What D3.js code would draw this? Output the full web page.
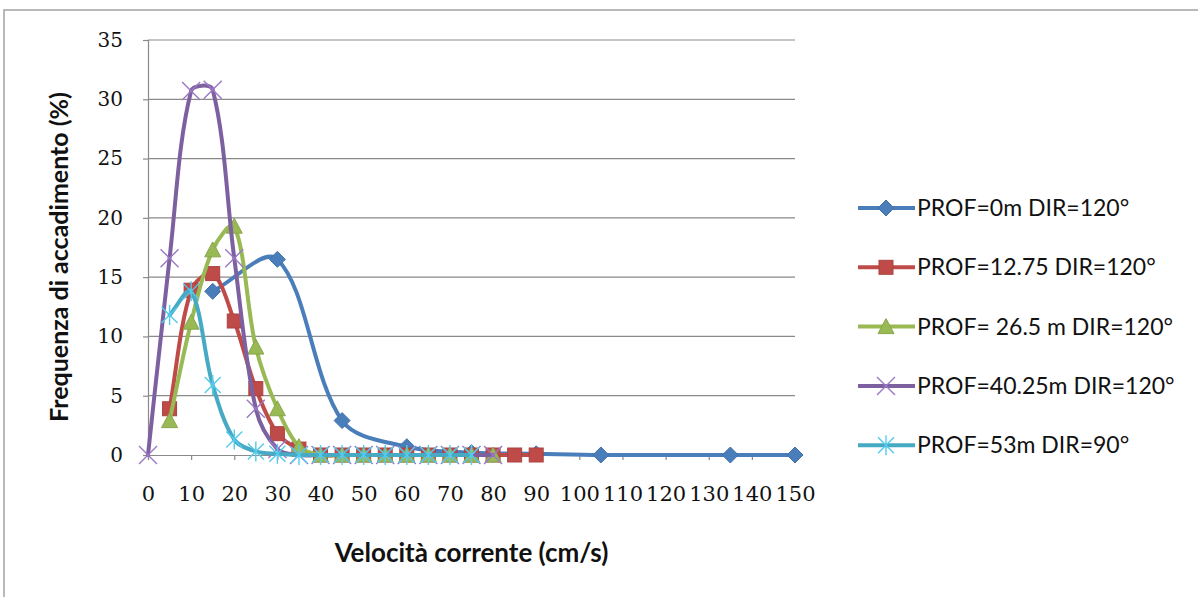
<!DOCTYPE html>
<html><head><meta charset="utf-8">
<script src="https://cdn.jsdelivr.net/npm/d3@7"></script>
<style>
body{margin:0;background:#fff}
</style>
</head><body>
<svg id="chart" width="1198" height="597"></svg>
<script>
// Velocity classes (cm/s) and frequency of occurrence (%) per depth
const seriesNames = ["PROF=0m DIR=120°", "PROF=12.75 DIR=120°", "PROF= 26.5 m DIR=120°", "PROF=40.25m DIR=120°", "PROF=53m DIR=90°"];
const seriesColors = ["#4a7ebb", "#be4b48", "#98b954", "#7d60a0", "#46aac5"];
const seriesMarkers = ["diamond", "square", "triangle", "cross", "star"];

const speed0 = [15, 30, 45, 60, 75, 90, 105, 135, 150];
const freq0  = [13.8, 16.5, 2.9, 0.7, 0.2, 0.1, 0, 0, 0];

const speed1 = [5, 10, 15, 20, 25, 30, 35, 40, 45, 50, 55, 60, 65, 70, 75, 80, 85, 90];
const freq1  = [3.9, 13.9, 15.3, 11.3, 5.6, 1.8, 0.5, 0, 0, 0, 0, 0, 0, 0, 0, 0, 0, 0];

const speed2 = [5, 10, 15, 20, 25, 30, 35, 40, 45, 50, 55, 60, 65, 70, 75, 80];
const freq2  = [2.9, 11.2, 17.3, 19.3, 9.1, 3.9, 0.7, 0, 0, 0, 0, 0, 0, 0, 0, 0];

const speed3 = [0, 5, 10, 15, 20, 25, 30, 35, 40, 45, 50, 55, 60, 65, 70, 75, 80];
const freq3  = [0, 16.6, 30.7, 30.8, 16.6, 3.9, 0.5, 0, 0, 0, 0, 0, 0, 0, 0, 0, 0];

const speed4 = [5, 10, 15, 20, 25, 30, 35, 40, 45, 50, 55, 60, 65, 70, 75];
const freq4  = [11.8, 13.8, 5.9, 1.3, 0.3, 0.1, 0, 0, 0, 0, 0, 0, 0, 0, 0];

const xTicks = [0, 10, 20, 30, 40, 50, 60, 70, 80, 90, 100, 110, 120, 130, 140, 150];
const yTicks = [0, 5, 10, 15, 20, 25, 30, 35];

const xTitle = "Velocità corrente (cm/s)";
const yTitle = "Frequenza di accadimento (%)";

const speeds = [speed0, speed1, speed2, speed3, speed4];
const freqs = [freq0, freq1, freq2, freq3, freq4];

const svg = d3.select("#chart");
const plot = {left: 148, top: 40, right: 795, bottom: 455};

const x = d3.scaleLinear().domain([0, 150]).range([plot.left, plot.right]);
const y = d3.scaleLinear().domain([0, 35]).range([plot.bottom, plot.top]);

const SANS = "Lato, 'Open Sans', sans-serif";
const SERIF = "'DejaVu Serif', serif";

// Smoothed line: cubic Bezier segments whose tangents are weighted by the
// neighbouring chord lengths, so short segments next to long ones stay tight.
function SmoothChord(context) { this._context = context; }
SmoothChord.prototype = {
  areaStart() { this._line = 0; },
  areaEnd() { this._line = NaN; },
  lineStart() { this._pts = []; },
  point(px, py) { this._pts.push([+px, +py]); },
  lineEnd() {
    const p = this._pts, n = p.length, c = this._context;
    if (!n) return;
    c.moveTo(p[0][0], p[0][1]);
    const dist = (a, b) => Math.hypot(b[0] - a[0], b[1] - a[1]);
    for (let i = 0; i < n - 1; i++) {
      const p0 = p[i - 1] || p[i], p1 = p[i], p2 = p[i + 1], p3 = p[i + 2] || p[i + 1];
      const d01 = dist(p0, p1), d12 = dist(p1, p2), d23 = dist(p2, p3);
      const f1 = (d01 + d12) > 0 ? d12 / (3 * (d01 + d12)) : 0;
      const f2 = (d12 + d23) > 0 ? d12 / (3 * (d12 + d23)) : 0;
      c.bezierCurveTo(
        p1[0] + (p2[0] - p0[0]) * f1, p1[1] + (p2[1] - p0[1]) * f1,
        p2[0] - (p3[0] - p1[0]) * f2, p2[1] - (p3[1] - p1[1]) * f2,
        p2[0], p2[1]);
    }
  }
};
const curveSmoothChord = ctx => new SmoothChord(ctx);

// chart frame
svg.append("rect").attr("x", 4).attr("y", 10).attr("width", 1220).attr("height", 620)
  .attr("fill", "#fff").attr("stroke", "#a3a3a3").attr("stroke-width", 1.5);

// horizontal gridlines
svg.append("g").selectAll("line").data(yTicks.filter(d => d > 0)).join("line")
  .attr("x1", plot.left).attr("x2", plot.right)
  .attr("y1", d => y(d)).attr("y2", d => y(d))
  .attr("stroke", "#8a8a8a").attr("stroke-width", 1.2);

// axes
const yAxis = svg.append("g").attr("transform", `translate(${plot.left},0)`)
  .call(d3.axisLeft(y).tickValues(yTicks).tickSize(5).tickPadding(20).tickFormat(d3.format("d")));
const xAxis = svg.append("g").attr("transform", `translate(0,${plot.bottom})`)
  .call(d3.axisBottom(x).tickValues(xTicks).tickSize(5).tickPadding(26).tickFormat(d3.format("d")));
[xAxis, yAxis].forEach(g => {
  g.select(".domain").attr("stroke", "#8a8a8a").attr("stroke-width", 1.2);
  g.selectAll(".tick line").attr("stroke", "#8a8a8a").attr("stroke-width", 1.2);
  g.selectAll(".tick text").attr("font-family", SERIF).attr("font-size", 20).attr("fill", "#111");
});
xAxis.selectAll(".tick text").attr("font-size", 21);

// axis titles
svg.append("text").attr("x", (plot.left + plot.right) / 2).attr("y", 562)
  .attr("text-anchor", "middle").attr("font-family", SANS).attr("font-weight", "bold")
  .attr("font-size", 26).attr("fill", "#111").text(xTitle);
svg.append("text").attr("transform", "translate(68,257) rotate(-90)")
  .attr("text-anchor", "middle").attr("font-family", SANS).attr("font-weight", "bold")
  .attr("font-size", 25).attr("fill", "#111").text(yTitle);

// marker shapes
function marker(g, kind, color) {
  if (kind === "diamond") {
    g.append("path").attr("d", "M0,-8L8,0L0,8L-8,0Z").attr("fill", color).attr("stroke", d3.color(color).darker(0.3)).attr("stroke-width", 1);
  } else if (kind === "square") {
    g.append("rect").attr("x", -7).attr("y", -7).attr("width", 14).attr("height", 14).attr("fill", color).attr("stroke", d3.color(color).darker(0.3)).attr("stroke-width", 1);
  } else if (kind === "triangle") {
    g.append("path").attr("d", "M0,-8L8,7L-8,7Z").attr("fill", color).attr("stroke", d3.color(color).darker(0.3)).attr("stroke-width", 1);
  } else if (kind === "cross") {
    g.append("path").attr("d", "M-9,-9L9,9M-9,9L9,-9").attr("stroke", d3.color(color).brighter(0.6)).attr("stroke-width", 1.4).attr("fill", "none");
  } else if (kind === "star") {
    g.append("path").attr("d", "M-8,-8L8,8M-8,8L8,-8M0,-10L0,10").attr("stroke", d3.color(color).brighter(0.5)).attr("stroke-width", 1.4).attr("fill", "none");
  }
}

const line = d3.line().x(d => x(d[0])).y(d => y(d[1])).curve(curveSmoothChord);

seriesNames.forEach((name, i) => {
  const pts = speeds[i].map((s, j) => [s, freqs[i][j]]);
  const g = svg.append("g");
  g.append("path").datum(pts).attr("d", line)
    .attr("fill", "none").attr("stroke", seriesColors[i]).attr("stroke-width", 4)
    .attr("stroke-linejoin", "round").attr("stroke-linecap", "round");
  g.selectAll("g.m").data(pts).join("g").attr("class", "m")
    .attr("transform", d => `translate(${x(d[0])},${y(d[1])})`)
    .each(function() { marker(d3.select(this), seriesMarkers[i], seriesColors[i]); });
});

// legend
const legend = svg.append("g");
seriesNames.forEach((name, i) => {
  const ly = 208 + i * 59.3;
  const row = legend.append("g").attr("transform", `translate(0,${ly})`);
  row.append("line").attr("x1", 858).attr("x2", 915).attr("y1", 0).attr("y2", 0)
    .attr("stroke", seriesColors[i]).attr("stroke-width", 4);
  const m = row.append("g").attr("transform", "translate(886,0)");
  marker(m, seriesMarkers[i], seriesColors[i]);
  row.append("text").attr("x", 917).attr("y", 0).attr("dy", "0.35em")
    .attr("font-family", SANS).attr("font-size", 23).attr("fill", "#111").text(name);
});
</script>
</body></html>
